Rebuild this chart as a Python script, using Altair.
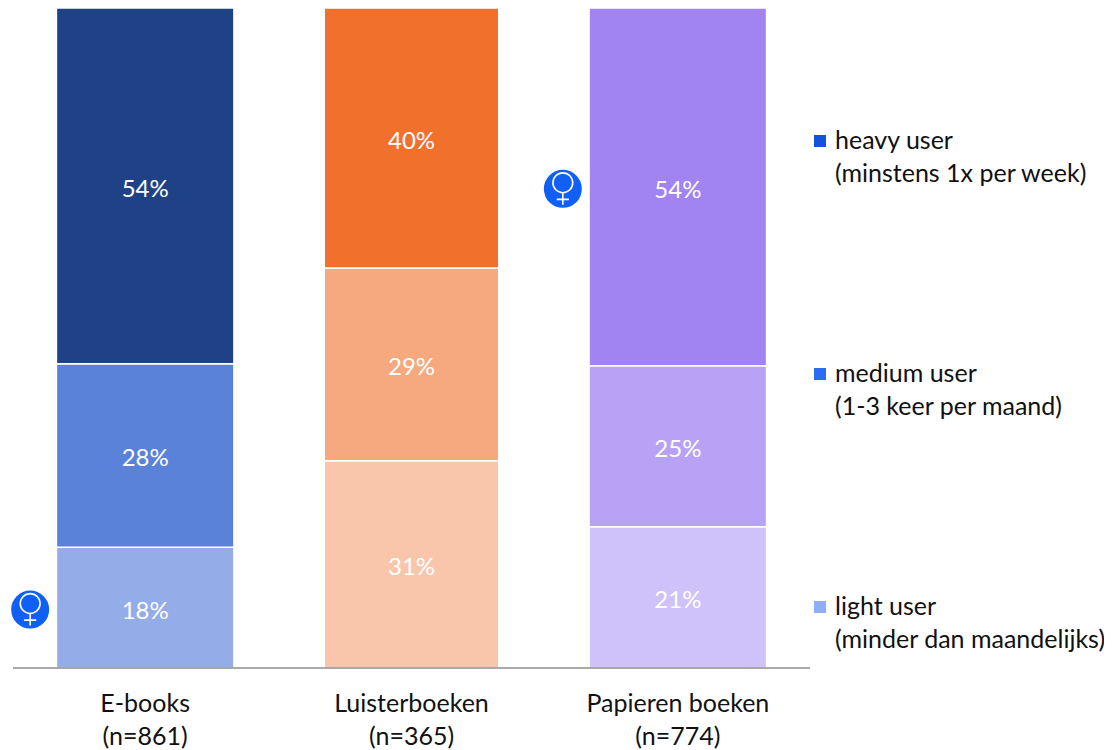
import altair as alt
import pandas as pd

FONT = "Lato"

categories = ["E-books", "Luisterboeken", "Papieren boeken"]
tick_labels = ["E-books\n(n=861)", "Luisterboeken\n(n=365)", "Papieren boeken\n(n=774)"]
levels = ["light", "medium", "heavy"]
ebooks = [18.3, 27.8, 53.9]
luister = [31.4, 29.2, 39.4]
papier = [21.4, 24.4, 54.2]
ebooks_labels = ["18%", "28%", "54%"]
luister_labels = ["31%", "29%", "40%"]
papier_labels = ["21%", "25%", "54%"]
ebooks_colors = ["#94ADE8", "#5B82D9", "#1F4287"]
luister_colors = ["#F9C6AB", "#F6A97F", "#F1702C"]
papier_colors = ["#CFC1FA", "#B8A2F5", "#A283F2"]
legend_labels = ["heavy user\n(minstens 1x per week)", "medium user\n(1-3 keer per maand)",
                 "light user\n(minder dan maandelijks)"]
legend_colors = ["#1352DC", "#2A6DF0", "#8DAEF8"]
icon_cats = ["E-books", "Papieren boeken"]
icon_levels = ["light", "heavy"]

rows = []
for cat, vals, labs, cols in zip(categories, [ebooks, luister, papier],
                                 [ebooks_labels, luister_labels, papier_labels],
                                 [ebooks_colors, luister_colors, papier_colors]):
    base = 0.0
    for lev, v, lab, col in zip(levels, vals, labs, cols):
        rows.append(dict(cat=cat, level=lev, y0=base, y1=base + v, mid=base + v / 2,
                         label=lab, color=col))
        base += v
df = pd.DataFrame(rows)
icons = df[[(c, l) in zip(icon_cats, icon_levels) for c, l in zip(df["cat"], df["level"])]]

x = alt.X("cat:N", sort=categories, axis=None,
          scale=alt.Scale(domain=categories, range=[0, 799], paddingInner=0.34, paddingOuter=0.17))
y_scale = alt.Scale(domain=[0, 100], nice=False, zero=True)

bars = alt.Chart(df).mark_bar(stroke="white", strokeWidth=1.5).encode(
    x=x,
    y=alt.Y("y0:Q", scale=y_scale, axis=None),
    y2="y1:Q",
    color=alt.Color("color:N", scale=None),
    size=alt.condition("datum.cat == 'Luisterboeken'", alt.value(174.5), alt.value(177.5)),
)
bar_text = alt.Chart(df).mark_text(font=FONT, fontSize=24, color="white", baseline="middle", dy=4).encode(
    x=x, y=alt.Y("mid:Q", scale=y_scale, axis=None), text="label:N")

axis_line = alt.Chart(pd.DataFrame({"a": [0]})).mark_rule(color="#8C8C8C", strokeWidth=1.5).encode(
    x=alt.value(1), x2=alt.value(798), y=alt.value(660))

ticks = alt.Chart(pd.DataFrame({"cat": categories, "t": tick_labels})).mark_text(
    font=FONT, fontSize=25, color="#111111", lineBreak="\n", lineHeight=33, baseline="middle"
).encode(x=x, y=alt.value(696), text="t:N")

icon_bg = alt.Chart(icons).mark_point(shape="circle", filled=True, size=1444, color="#1060F6",
                                      opacity=1, xOffset=-115, yOffset=2).encode(
    x=x, y=alt.Y("mid:Q", scale=y_scale, axis=None))
VENUS = ("M-0.31,-0.19A0.31,0.31 0 1,1 0.31,-0.19A0.31,0.31 0 1,1 -0.31,-0.19"
         "M0,0.12L0,0.5M-0.19,0.33L0.19,0.33")
icon_fg = alt.Chart(icons).mark_point(shape=VENUS, filled=False, size=4096, stroke="white",
                                      strokeWidth=1.6, opacity=1, xOffset=-115, yOffset=2).encode(
    x=x, y=alt.Y("mid:Q", scale=y_scale, axis=None))

leg = pd.DataFrame({"t": legend_labels, "c": legend_colors,
                    "sq": [133, 366, 599], "first": [133, 366, 599]})
leg_sq = alt.Chart(leg).mark_square(size=144, opacity=1).encode(
    x=alt.value(808), y=alt.Y("sq:Q", scale=None),
    color=alt.Color("c:N", scale=None))
leg_text = alt.Chart(leg).mark_text(font=FONT, fontSize=25, color="#111111", align="left",
                                    baseline="middle", lineBreak="\n", lineHeight=33).encode(
    x=alt.value(823), y=alt.Y("first:Q", scale=None), text="t:N")

chart = alt.layer(bars, bar_text, axis_line, ticks, icon_bg, icon_fg, leg_sq, leg_text).resolve_scale(
    y="independent").properties(
    width=1092, height=660,
    autosize=alt.AutoSizeParams(type="none"),
    padding={"left": 4, "top": 0, "right": 0, "bottom": 81},
    background="white",
).configure_view(stroke=None)

chart.save("out.html", embed_options={"renderer": "svg", "actions": False})
